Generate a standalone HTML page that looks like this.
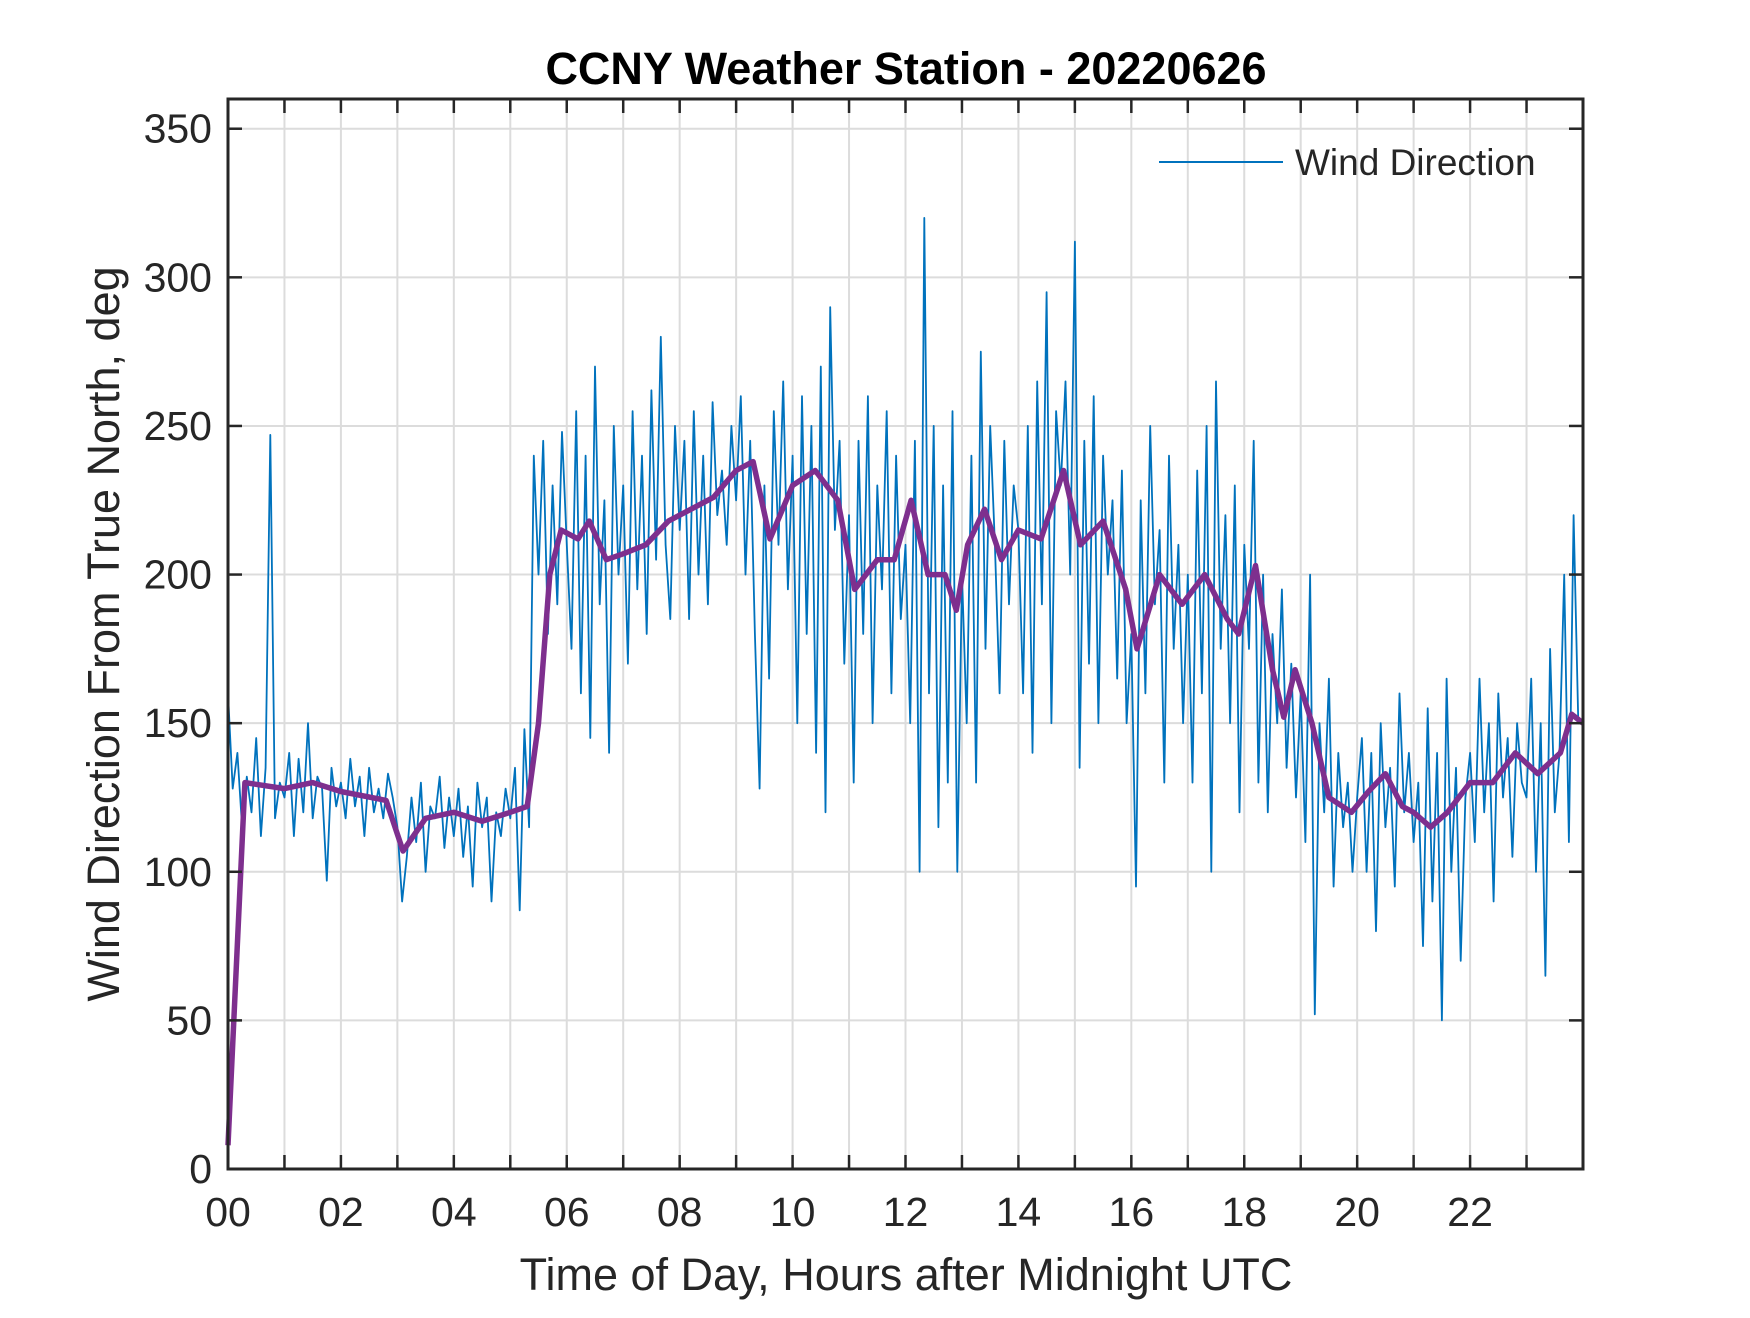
<!DOCTYPE html>
<html><head><meta charset="utf-8"><style>
body{margin:0;background:#fff}
svg text{font-family:"Liberation Sans",Arial,sans-serif;fill:#262626}
</style></head><body>
<svg id="chart" width="1750" height="1313" viewBox="0 0 1750 1313" xmlns="http://www.w3.org/2000/svg">
<rect width="1750" height="1313" fill="#fff"/>
<g id="grid"></g>
<g id="series"></g>
<g id="axes"></g>
<text x="906" y="84" font-size="45" font-weight="bold" text-anchor="middle" style="fill:#000">CCNY Weather Station - 20220626</text>
<text x="906" y="1290" font-size="45" text-anchor="middle">Time of Day, Hours after Midnight UTC</text>
<text transform="translate(119,634) rotate(-90)" font-size="45" text-anchor="middle">Wind Direction From True North, deg</text>
<g>
<line x1="1159" y1="162" x2="1283" y2="162" stroke="#0072BD" stroke-width="2"/>
<text x="1295" y="175" font-size="37">Wind Direction</text>
</g>
</svg>
<script>
const rawValues=[
160,128,140,115,132,120,145,112,135,247,118,130,
125,140,112,138,120,150,118,132,128,97,135,122,
130,118,138,122,132,112,135,120,128,118,133,125,
115,90,105,125,110,130,100,122,118,132,108,125,
112,128,105,122,95,130,115,125,90,120,112,128,
118,135,87,148,115,240,200,245,180,230,190,248,
210,175,255,160,240,145,270,190,225,140,250,200,
230,170,255,195,240,180,262,205,280,210,185,250,
215,245,185,255,200,240,190,258,220,235,210,250,
225,260,200,245,180,128,230,165,255,210,265,195,
240,150,260,180,250,140,270,120,290,215,245,170,
220,130,245,180,260,150,230,195,255,160,240,185,
210,150,245,100,320,160,250,115,230,130,255,100,
200,150,240,130,275,175,250,210,160,245,190,230,
215,160,250,140,265,190,295,150,255,230,265,200,
312,135,245,170,260,150,240,200,225,165,235,150,
180,95,225,160,250,190,215,130,240,175,210,150,
200,130,235,160,250,100,265,175,220,150,230,120,
210,175,245,130,200,120,180,150,195,135,170,125,
160,110,200,52,150,120,165,95,140,115,130,100,
125,145,100,140,80,150,115,135,95,160,120,140,
110,130,75,155,90,140,50,165,100,135,70,125,
140,110,165,120,150,90,160,125,145,105,150,130,
125,165,100,150,65,175,120,140,200,110,220,150,150];
const smoothHours=[0,0.3,1,1.5,2,2.8,3.1,3.5,4,4.5,5,5.3,5.5,5.7,5.9,6.2,6.4,6.7,7,7.4,7.8,8.2,8.6,9,9.3,9.6,10,10.4,10.8,11.1,11.5,11.8,12.1,12.4,12.7,12.9,13.1,13.4,13.7,14,14.4,14.8,15.1,15.5,15.9,16.1,16.5,16.9,17.3,17.7,17.9,18.2,18.5,18.7,18.9,19.2,19.5,19.9,20.2,20.5,20.8,21,21.3,21.6,22,22.4,22.8,23.2,23.6,23.8,24];
const smoothValues=[8,130,128,130,127,124,107,118,120,117,120,122,150,200,215,212,218,205,207,210,218,222,226,235,238,212,230,235,225,195,205,205,225,200,200,188,210,222,205,215,212,235,210,218,195,175,200,190,200,185,180,203,168,152,168,150,125,120,127,133,122,120,115,120,130,130,140,133,140,153,150];
const xTickLabels=["00","02","04","06","08","10","12","14","16","18","20","22"];
const yTicks=[0,50,100,150,200,250,300,350];

const L=228,R=1583,T=99,B=1169;
const X=h=>L+(R-L)*h/24;
const Y=v=>B-(B-T)*v/360;
const NS="http://www.w3.org/2000/svg";
function mk(tag,attrs,parent){const e=document.createElementNS(NS,tag);for(const k in attrs)e.setAttribute(k,attrs[k]);parent.appendChild(e);return e;}
const grid=document.getElementById('grid'),axes=document.getElementById('axes'),series=document.getElementById('series');
for(let h=0;h<=24;h++){
  const gl=mk('line',{x1:X(h),x2:X(h),y1:T,y2:B,stroke:'#dcdcdc','stroke-width':2},grid);
  
  
  const t1=mk('line',{x1:X(h),x2:X(h),y1:B,y2:B-14,stroke:'#262626','stroke-width':2.5},axes);
  
  
  const t2=mk('line',{x1:X(h),x2:X(h),y1:T,y2:T+14,stroke:'#262626','stroke-width':2.5},axes);
  
  
}
xTickLabels.forEach((s,i)=>{
  const t=mk('text',{x:X(i*2),y:1226,'font-size':41,'text-anchor':'middle'},axes);
  t.textContent=s;
  
  
});
yTicks.forEach(v=>{
  const gl=mk('line',{x1:L,x2:R,y1:Y(v),y2:Y(v),stroke:'#dcdcdc','stroke-width':2},grid);
  
  
  const t1=mk('line',{x1:L,x2:L+14,y1:Y(v),y2:Y(v),stroke:'#262626','stroke-width':2.5},axes);
  
  
  const t2=mk('line',{x1:R,x2:R-14,y1:Y(v),y2:Y(v),stroke:'#262626','stroke-width':2.5},axes);
  
  
  const t=mk('text',{x:212,y:Y(v)+14,'font-size':41,'text-anchor':'end'},axes);
  t.textContent=v;
  
  
});
const frame=mk('rect',{x:L,y:T,width:R-L,height:B-T,fill:'none',stroke:'#262626','stroke-width':3},axes);


const n=rawValues.length-1;
const rawPts=rawValues.map((v,i)=>X(24*i/n).toFixed(1)+','+Y(v).toFixed(1)).join(' ');
const raw=mk('polyline',{points:rawPts,fill:'none',stroke:'#0072BD','stroke-width':1.8,'stroke-linejoin':'round'},series);


const smPts=smoothHours.map((h,i)=>X(h).toFixed(1)+','+Y(smoothValues[i]).toFixed(1)).join(' ');
const sm=mk('polyline',{points:smPts,fill:'none',stroke:'#7E2F8E','stroke-width':5.5,'stroke-linejoin':'round'},series);


</script>
</body></html>
